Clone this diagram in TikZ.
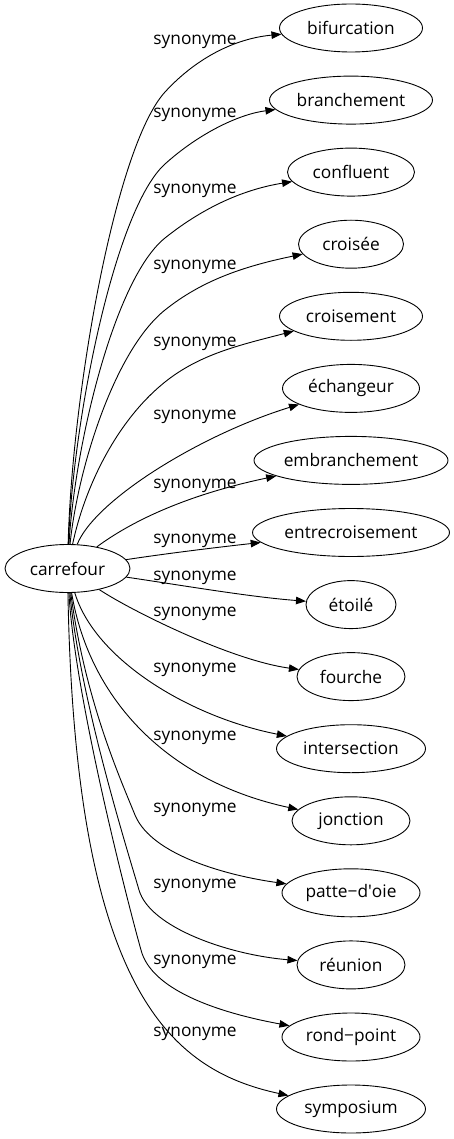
\documentclass[tikz,border=0pt]{standalone}
\usepackage{fontspec}
\setmainfont{Open Sans}
\usetikzlibrary{shapes.geometric,arrows.meta}
\tikzset{
  word/.style={draw, ellipse, line width=0.9pt, inner sep=0pt, minimum height=48pt, font=\fontsize{17.3}{20}\selectfont},
  conn/.style={line width=0.9pt, -{Triangle[length=10pt,width=7.5pt]}},
  lab/.style={font=\fontsize{17.3}{20}\selectfont, inner sep=0pt}
}
\begin{document}
\begin{tikzpicture}[x=1pt,y=-1pt]
\useasboundingbox (0,0) rectangle (453,1139);
\node[word, minimum width=125pt] (c) at (67.5,568.5) {carrefour};
\node[word, minimum width=143pt] (n1) at (351,28) {bifurcation};
\node[word, minimum width=163pt] (n2) at (351,100.1) {branchement};
\node[word, minimum width=127pt] (n3) at (351,172.1) {confluent};
\node[word, minimum width=105pt] (n4) at (351,244.2) {croisée};
\node[word, minimum width=143pt] (n5) at (351,316.3) {croisement};
\node[word, minimum width=137pt] (n6) at (351,388.4) {échangeur};
\node[word, minimum width=194pt] (n7) at (351,460.4) {embranchement};
\node[word, minimum width=197pt] (n8) at (351,532.5) {entrecroisement};
\node[word, minimum width=90pt] (n9) at (351,604.6) {étoilé};
\node[word, minimum width=108pt] (n10) at (351,676.6) {fourche};
\node[word, minimum width=149pt] (n11) at (351,748.7) {intersection};
\node[word, minimum width=118pt] (n12) at (351,820.8) {jonction};
\node[word, minimum width=138pt] (n13) at (351,892.8) {patte−d\textquotesingle oie};
\node[word, minimum width=108pt] (n14) at (351,964.9) {réunion};
\node[word, minimum width=138pt] (n15) at (351,1037) {rond−point};
\node[word, minimum width=149pt] (n16) at (351,1109) {symposium};

\coordinate (p1) at (165,92);
\coordinate (p2) at (165,164);
\coordinate (p3) at (165,238);
\coordinate (p4) at (165,310);
\coordinate (p5) at (165,382);
\coordinate (p13) at (135,815);
\coordinate (p14) at (139,890);
\coordinate (p15) at (141,950);

\draw[conn] (c) .. controls (72,395) and (115,147) .. (p1) .. controls (200,54) and (240,38) .. (n1);
\draw[conn] (c) .. controls (73,419) and (115,209) .. (p2) .. controls (200,132.5) and (240,114) .. (n2);
\draw[conn] (c) .. controls (75,443) and (115,278) .. (p3) .. controls (200,210) and (240,190) .. (n3);
\draw[conn] (c) .. controls (78,467) and (115,350) .. (p4) .. controls (200,282) and (240,267) .. (n4);
\draw[conn] (c) .. controls (84,490) and (115,422) .. (p5) .. controls (200,354) and (240,345) .. (n5);
\draw[conn] (c) .. controls (95,500) and (200,435) .. (n6);
\draw[conn] (c) .. controls (140,515) and (200,492) .. (n7);
\draw[conn] (c) .. controls (170,553) and (220,547) .. (n8);
\draw[conn] (c) .. controls (180,585) and (250,597) .. (n9);
\draw[conn] (c) .. controls (130,610) and (230,660) .. (n10);
\draw[conn] (c) .. controls (95,660) and (190,717) .. (n11);
\draw[conn] (c) .. controls (90,702) and (170,782) .. (n12);
\draw[conn] (c) .. controls (85,700) and (120,778) .. (p13) .. controls (152,856) and (230,876) .. (n13);
\draw[conn] (c) .. controls (80,700) and (128,852) .. (p14) .. controls (150,928) and (230,955) .. (n14);
\draw[conn] (c) .. controls (75,700) and (130,911) .. (p15) .. controls (151,989) and (215,1012) .. (n15);
\draw[conn] (c) .. controls (75,990) and (170,1070) .. (n16);

\node[lab] (l1) at (195,42) {synonyme};
\node[lab] (l2) at (195,115) {synonyme};
\node[lab] (l3) at (195,191) {synonyme};
\node[lab] (l4) at (195,267) {synonyme};
\node[lab] (l5) at (195,344) {synonyme};
\node[lab] (l6) at (195,417) {synonyme};
\node[lab] (l7) at (195,486) {synonyme};
\node[lab] (l8) at (195,541) {synonyme};
\node[lab] (l9) at (195,578) {synonyme};
\node[lab] (l10) at (195,614) {synonyme};
\node[lab] (l11) at (195,670) {synonyme};
\node[lab] (l12) at (195,738) {synonyme};
\node[lab] (l13) at (195,810) {synonyme};
\node[lab] (l14) at (195,886) {synonyme};
\node[lab] (l15) at (195,962) {synonyme};
\node[lab] (l16) at (195,1034) {synonyme};
\end{tikzpicture}
\end{document}
